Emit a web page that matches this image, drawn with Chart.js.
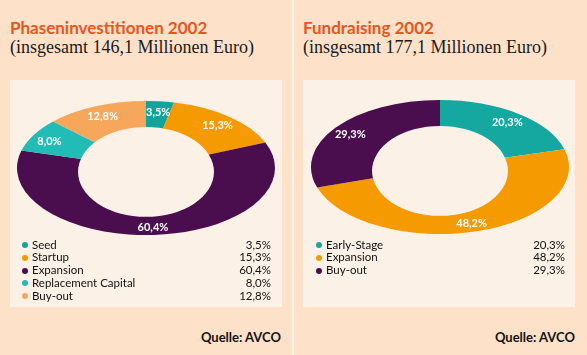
<!DOCTYPE html>
<html>
<head>
<meta charset="utf-8">
<script src="https://cdn.jsdelivr.net/npm/chart.js@4"></script>
<style>
  html, body { margin:0; padding:0; }
  body { width:587px; height:355px; position:relative; overflow:hidden; background:#fde1c9; font-family: Lato, "Open Sans", sans-serif; }
  .sep { position:absolute; left:292px; top:0; width:2px; height:355px; background:#fff6ef; }
  .box { position:absolute; top:80px; width:272px; height:227px; background:#fcf1e7; }
  .title { position:absolute; top:17px; font-weight:bold; font-size:17px; color:#e8561d; white-space:nowrap; }
  .sub { position:absolute; top:37px; font-family:"Liberation Serif", "DejaVu Serif", serif; font-size:18px; color:#1a1a1a; white-space:nowrap; }
  canvas { position:absolute; pointer-events:none; }
  .legend { position:absolute; top:238.5px; font-size:11.5px; color:#111; }
  .row { position:relative; height:12.8px; line-height:12.8px; white-space:nowrap; }
  .dot { position:absolute; left:0; top:3.5px; width:6px; height:6px; border-radius:50%; }
  .lab { position:absolute; left:10px; }
  .val { position:absolute; right:0; }
  .src { position:absolute; top:329px; font-weight:bold; font-size:13px; color:#111; text-align:right; }
</style>
</head>
<body>
<div class="sep"></div>
<div class="box" style="left:10px"></div>
<div class="box" style="left:303px"></div>
<div class="title" style="left:10px">Phaseninvestitionen 2002</div>
<div class="sub" style="left:10px">(insgesamt 146,1 Millionen Euro)</div>
<div class="title" style="left:303px">Fundraising 2002</div>
<div class="sub" style="left:303px">(insgesamt 177,1 Millionen Euro)</div>
<canvas id="c1" width="272" height="258" style="left:10px; top:39px"></canvas>
<canvas id="c2" width="272" height="258" style="left:304px; top:38px"></canvas>
<div class="legend" id="lg1" style="left:22px; width:249px"></div>
<div class="legend" id="lg2" style="left:316px; width:249px"></div>
<div class="src" style="left:180px; width:101px">Quelle: AVCO</div>
<div class="src" style="left:474px; width:101px">Quelle: AVCO</div>
<script>
// ---- data ----
const leftLabels = ['Seed', 'Startup', 'Expansion', 'Replacement Capital', 'Buy-out'];
const leftValues = [3.5, 15.3, 60.4, 8.0, 12.8];
const leftColors = ['#12a49c', '#f59a00', '#4a0e4e', '#22bcb6', '#f7a75c'];

const rightLabels = ['Early-Stage', 'Expansion', 'Buy-out'];
const rightValues = [20.3, 48.2, 29.3];
const rightColors = ['#14a8a0', '#f59a00', '#4a0e4e'];

const BOX_BG = '#fcf1e7';
const K = 0.52; // vertical squash of the ring

function fmt(v) { return v.toFixed(1).replace('.', ',') + '%'; }

const ellipsePlugin = {
  id: 'ellipse',
  beforeDatasetsDraw(chart) {
    const a = chart.getDatasetMeta(0).data[0];
    const ctx = chart.ctx;
    ctx.save();
    ctx.translate(a.x, a.y);
    ctx.scale(1, K);
    ctx.translate(-a.x, -a.y);
  },
  afterDatasetsDraw(chart) {
    const ctx = chart.ctx;
    ctx.restore();
    const meta = chart.getDatasetMeta(0);
    const a = meta.data[0];
    const R = a.outerRadius;
    // hole (tilted look)
    ctx.save();
    ctx.fillStyle = BOX_BG;
    ctx.beginPath();
    ctx.ellipse(a.x, a.y + R * 0.03, R * 0.527, R * K * 0.67, 0, 0, Math.PI * 2);
    ctx.fill();
    ctx.restore();
    // value labels
    const vals = chart.data.datasets[0].data;
    ctx.save();
    ctx.fillStyle = '#ffffff';
    ctx.font = 'bold 11px Lato, "Open Sans", sans-serif';
    ctx.textAlign = 'center';
    ctx.textBaseline = 'middle';
    meta.data.forEach((arc, i) => {
      const mid = (arc.startAngle + arc.endAngle) / 2;
      const r = arc.outerRadius * 0.86;
      const x = arc.x + Math.cos(mid) * r;
      const y = arc.y + Math.sin(mid) * r * K + 1.5;
      ctx.fillText(fmt(vals[i]), x, y);
    });
    ctx.restore();
  }
};

function makeChart(id, labels, values, colors) {
  new Chart(document.getElementById(id), {
    type: 'doughnut',
    data: { labels: labels, datasets: [{ data: values, backgroundColor: colors, borderWidth: 0 }] },
    options: {
      responsive: false,
      animation: false,
      devicePixelRatio: 1,
      cutout: '45%',
      layout: { padding: 0 },
      plugins: { legend: { display: false }, tooltip: { enabled: false } }
    },
    plugins: [ellipsePlugin]
  });
}

function makeLegend(id, labels, values, colors) {
  const el = document.getElementById(id);
  labels.forEach((l, i) => {
    const row = document.createElement('div');
    row.className = 'row';
    row.innerHTML = '<span class="dot" style="background:' + colors[i] + '"></span>' +
      '<span class="lab">' + l + '</span><span class="val">' + fmt(values[i]) + '</span>';
    el.appendChild(row);
  });
}

makeChart('c1', leftLabels, leftValues, leftColors);
makeChart('c2', rightLabels, rightValues, rightColors);
makeLegend('lg1', leftLabels, leftValues, leftColors);
makeLegend('lg2', rightLabels, rightValues, rightColors);
</script>
</body>
</html>
